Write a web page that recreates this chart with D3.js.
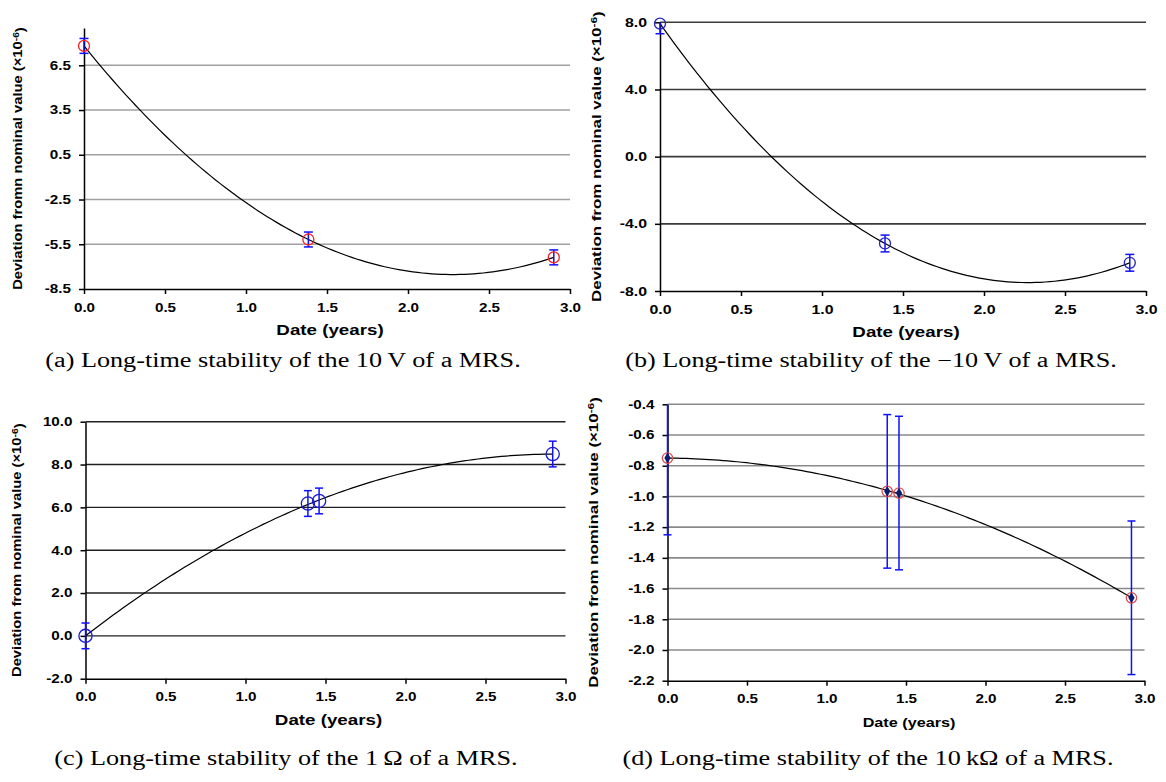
<!DOCTYPE html>
<html><head><meta charset="utf-8">
<script src="https://cdn.jsdelivr.net/npm/d3@7"></script>
<style>body{margin:0;background:#fff} svg{display:block}</style>
</head><body>
<svg id="c" width="1166" height="782"></svg>
<script>
// ---------- data ----------
const xTicks = [0.0, 0.5, 1.0, 1.5, 2.0, 2.5, 3.0];

const aX = [0.0, 1.385, 2.90];
const aY = [7.80, -5.18, -6.38];
const aErr = [0.5, 0.5, 0.5];
const aYTicks = [-8.5, -5.5, -2.5, 0.5, 3.5, 6.5];

const bX = [0.0, 1.389, 2.90];
const bY = [7.92, -5.17, -6.32];
const bErr = [0.6, 0.5, 0.5];
const bYTicks = [-8.0, -4.0, 0.0, 4.0, 8.0];

const cX = [0.0, 1.39, 1.46, 2.92];
const cY = [0.0, 6.18, 6.30, 8.49];
const cErr = [0.6, 0.6, 0.6, 0.6];
const cYTicks = [-2.0, 0.0, 2.0, 4.0, 6.0, 8.0, 10.0];

const dX = [0.0, 1.382, 1.456, 2.918];
const dY = [-0.75, -0.967, -0.978, -1.66];
const dErr = [0.5, 0.5, 0.5, 0.5];
const dYTicks = [-2.2, -2.0, -1.8, -1.6, -1.4, -1.2, -1.0, -0.8, -0.6, -0.4];

const yLabelA = "Deviation fromn nominal value (\u00d710";
const yLabelB = "Deviation from nominal value (\u00d710";
const captions = [
  "(a) Long-time stability of the 10\u2009V of a MRS.",
  "(b) Long-time stability of the \u221210\u2009V of a MRS.",
  "(c) Long-time stability of the 1\u2009\u03a9 of a MRS.",
  "(d) Long-time stability of the 10\u2009k\u03a9 of a MRS."
];

// ---------- helpers ----------
// least-squares quadratic trendline (as the source's polynomial trendline)
function quadFit(xs, ys) {
  let S = [0,0,0,0,0], T = [0,0,0];
  xs.forEach((x,i) => {
    for (let k=0;k<5;k++) S[k] += Math.pow(x,k);
    for (let k=0;k<3;k++) T[k] += ys[i]*Math.pow(x,k);
  });
  const M = [[S[0],S[1],S[2],T[0]],[S[1],S[2],S[3],T[1]],[S[2],S[3],S[4],T[2]]];
  for (let i=0;i<3;i++){
    let p=i; for(let r=i+1;r<3;r++) if(Math.abs(M[r][i])>Math.abs(M[p][i])) p=r;
    [M[i],M[p]]=[M[p],M[i]];
    for(let r=0;r<3;r++){ if(r===i) continue; const f=M[r][i]/M[i][i]; for(let c=i;c<4;c++) M[r][c]-=f*M[i][c]; }
  }
  return [M[0][3]/M[0][0], M[1][3]/M[1][1], M[2][3]/M[2][2]];
}

const svg = d3.select("#c");
const SANS = "'Liberation Sans', Arial, sans-serif";
const SERIF = "'Liberation Serif', 'Times New Roman', serif";
const fmt = v => v.toFixed(1);
const TS = 1.27; // horizontal stretch of the source's lettering

function panel(cfg) {
  const g = svg.append("g");
  const x = d3.scaleLinear([0, 3], [cfg.left, cfg.right]);
  const y = d3.scaleLinear(cfg.yDomain, [cfg.bottom, cfg.top]);

  // gridlines
  g.selectAll("line.grid").data(cfg.yTicks.filter(t => t !== cfg.yDomain[0]))
    .join("line").attr("class","grid")
    .attr("x1", cfg.left).attr("x2", cfg.right)
    .attr("y1", d => y(d)).attr("y2", d => y(d))
    .attr("stroke", cfg.gridColor).attr("stroke-width", cfg.gridWidth);

  // axes
  const ya = g.append("g").attr("transform", `translate(${cfg.left},0)`)
    .call(d3.axisLeft(y).tickValues(cfg.yTicks).tickFormat(fmt).tickSize(5).tickSizeOuter(0).tickPadding(8));
  const xa = g.append("g").attr("transform", `translate(0,${cfg.bottom})`)
    .call(d3.axisBottom(x).tickValues(xTicks).tickFormat(fmt).tickSize(5).tickSizeOuter(0).tickPadding(9));
  [ya, xa].forEach(a => {
    a.selectAll("path,line").attr("stroke", "#000").attr("stroke-width", 1.5);
    a.selectAll("text").attr("font-family", SANS).attr("font-weight", "bold")
      .attr("font-size", cfg.tickFont).attr("fill", "#000")
      .attr("transform", `scale(${TS},1)`);
  });
  ya.selectAll("text").attr("x", -13 / TS);

  // x title
  g.append("text")
    .attr("transform", `translate(${(cfg.left + cfg.right)/2 + 3},${cfg.bottom + 46}) scale(${cfg.xTitleStretch},1)`)
    .attr("text-anchor","middle").attr("font-family", SANS).attr("font-weight","bold")
    .attr("font-size", cfg.xTitleFont).text("Date (years)");

  // y title
  const yt = g.append("text")
    .attr("transform", `translate(${cfg.yLabelX},${(cfg.top+cfg.bottom)/2 + (cfg.yLabelShift||0)}) rotate(-90) scale(${cfg.yTitleStretch},1)`)
    .attr("text-anchor","middle").attr("dy","0.35em")
    .attr("font-family", SANS).attr("font-weight","bold").attr("font-size", cfg.yTitleFont);
  yt.append("tspan").text(cfg.yLabel);
  yt.append("tspan").attr("dy","-0.4em").attr("font-size", cfg.yTitleFont*0.7).text("-6");
  yt.append("tspan").attr("dy","0.4em").text(")");

  // trendline
  const [c0,c1,c2] = quadFit(cfg.xs, cfg.ys);
  const x0 = d3.min(cfg.xs), x1 = d3.max(cfg.xs);
  const pts = d3.range(0, 101).map(i => { const t = x0 + (x1-x0)*i/100; return [t, c0 + c1*t + c2*t*t]; });
  g.append("path").attr("d", d3.line().x(d => x(d[0])).y(d => y(d[1]))(pts))
    .attr("fill","none").attr("stroke","#000").attr("stroke-width",1.2);

  // error bars
  const [ymin, ymax] = cfg.yDomain;
  cfg.xs.forEach((xv, i) => {
    const hi = cfg.ys[i] + cfg.errs[i], lo = cfg.ys[i] - cfg.errs[i];
    const hiC = Math.min(hi, ymax), loC = Math.max(lo, ymin);
    const px = x(xv);
    g.append("line").attr("x1",px).attr("x2",px).attr("y1",y(hiC)).attr("y2",y(loC))
      .attr("stroke", cfg.errColor).attr("stroke-width",1.5);
    if (hi <= ymax) g.append("line").attr("x1",px-cfg.cap).attr("x2",px+cfg.cap).attr("y1",y(hi)).attr("y2",y(hi))
      .attr("stroke", cfg.errColor).attr("stroke-width",1.5);
    if (lo >= ymin) g.append("line").attr("x1",px-cfg.cap).attr("x2",px+cfg.cap).attr("y1",y(lo)).attr("y2",y(lo))
      .attr("stroke", cfg.errColor).attr("stroke-width",1.5);
  });

  // markers
  cfg.xs.forEach((xv, i) => {
    g.append("circle").attr("cx", x(xv)).attr("cy", y(cfg.ys[i])).attr("r", cfg.r)
      .attr("fill","none").attr("stroke", cfg.markColor).attr("stroke-width", 1.3);
    if (cfg.diamond) {
      g.append("path").attr("d", d3.symbol(d3.symbolDiamond, 34)())
        .attr("transform", `translate(${x(xv)},${y(cfg.ys[i])})`).attr("fill", "#0a1a6e");
    }
  });

  // caption
  svg.append("text").attr("transform", `translate(${cfg.capX},${cfg.capY}) scale(1.31,1)`)
    .attr("text-anchor","middle")
    .attr("font-family", SERIF).attr("font-size", 20).attr("fill","#000").text(cfg.caption);
}

panel({left:84, right:570, top:28, bottom:289, yDomain:[-8.5, 9.0], yTicks:aYTicks,
  xs:aX, ys:aY, errs:aErr, gridColor:"#a0a0a0", gridWidth:1.6, tickFont:12,
  xTitleFont:15, xTitleStretch:1.25, yTitleFont:12.5, yTitleStretch:1.18,
  yLabel:yLabelA, yLabelX:18, r:5.5, markColor:"#ff2020", errColor:"#1010ff", cap:4.5,
  caption:captions[0], capX:283, capY:367});

panel({left:660, right:1146, top:22.3, bottom:291, yDomain:[-8, 8], yTicks:bYTicks,
  xs:bX, ys:bY, errs:bErr, gridColor:"#3a3a3a", gridWidth:1.6, tickFont:12.5,
  xTitleFont:15, xTitleStretch:1.25, yTitleFont:13, yTitleStretch:1.3,
  yLabel:yLabelB, yLabelX:596, r:5.5, markColor:"#2424b8", errColor:"#1010ff", cap:4.5,
  caption:captions[1], capX:871, capY:367});

panel({left:85.5, right:565.5, top:421.7, bottom:678.7, yDomain:[-2, 10], yTicks:cYTicks,
  xs:cX, ys:cY, errs:cErr, gridColor:"#202020", gridWidth:1.4, tickFont:12,
  xTitleFont:15, xTitleStretch:1.25, yTitleFont:12.5, yTitleStretch:1.18,
  yLabel:yLabelB, yLabelX:17, r:6.6, markColor:"#1a1ad0", errColor:"#1010ff", cap:4,
  caption:captions[2], capX:286, capY:765});

panel({left:667.5, right:1144.5, top:404.3, bottom:680.7, yDomain:[-2.2, -0.4], yTicks:dYTicks,
  xs:dX, ys:dY, errs:dErr, gridColor:"#8a8a8a", gridWidth:1.6, tickFont:12,
  xTitleFont:13.5, xTitleStretch:1.2, yTitleFont:13, yTitleStretch:1.3,
  yLabel:yLabelB, yLabelX:593, r:5.2, markColor:"#d85050", errColor:"#1010ff", cap:4, diamond:true,
  caption:captions[3], capX:868, capY:765});
</script>
</body></html>
